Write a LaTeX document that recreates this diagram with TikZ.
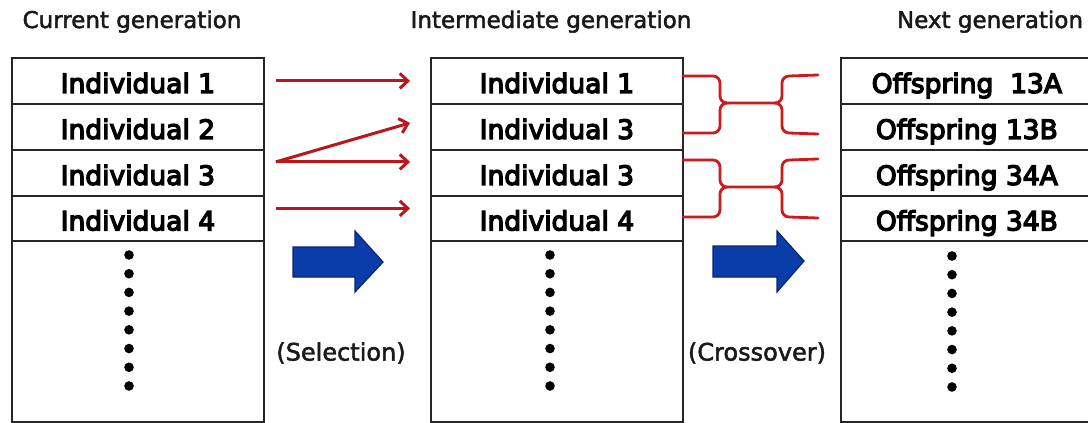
\documentclass[tikz,border=0pt]{standalone}
\usepackage{fontspec}
\setmainfont{DejaVu Sans}
\newfontfamily\cellfont[FakeBold=5]{DejaVu Sans}
\newfontfamily\labelfont[FakeBold=2]{DejaVu Sans}
\usetikzlibrary{arrows.meta,calc}

\definecolor{selred}{RGB}{186,22,30}
\definecolor{brkred}{RGB}{200,28,30}
\definecolor{stepblue}{RGB}{10,60,170}
\definecolor{stepedge}{RGB}{12,36,112}

\tikzset{
  cell/.style={draw=black!85, line width=1.8pt, minimum width=252pt,
    minimum height=46pt, inner sep=0pt, anchor=north west,
    font=\cellfont\fontsize{26.5}{30}\selectfont, text height=24pt, text depth=0pt},
  lastcell/.style={cell, minimum height=45pt},
  tailcell/.style={cell, minimum height=181pt},
  heading/.style={anchor=base, inner sep=0pt, text=black!90, font=\labelfont\fontsize{23}{27}\selectfont},
  steplabel/.style={anchor=center, inner sep=0pt, text=black!90, font=\labelfont\fontsize{24}{28}\selectfont},
  selarrow/.style={draw=selred, line width=3pt, -{Straight Barb[length=8pt,width=15pt]}},
  bracket/.style={draw=brkred, line width=2.8pt, line cap=round, line join=round},
  bigarrow/.style={fill=stepblue, draw=stepedge, line width=1.2pt, line join=miter},
  dotmark/.style={fill=black}
}

\begin{document}
\begin{tikzpicture}[x=1pt,y=-1pt]
  \useasboundingbox (0,0) rectangle (1088,423);
  \clip (0,0) rectangle (1088,423);
  \fill[white] (0,0) rectangle (1088,423);

  % column headings
  \node[heading] (hcur) at (132,28) {Current generation};
  \node[heading] (hmid) at (551,28) {Intermediate generation};
  \node[heading] (hnext) at (990,28) {Next generation};

  % current generation
  \node[cell] (L1) at (11,57) {Individual 1};
  \node[cell] (L2) at (11,103) {Individual 2};
  \node[cell] (L3) at (11,149) {Individual 3};
  \node[lastcell] (L4) at (11,195) {Individual 4};
  \node[tailcell] (L5) at (11,240) {};

  % intermediate generation
  \node[cell] (M1) at (430,57) {Individual 1};
  \node[cell] (M2) at (430,103) {Individual 3};
  \node[cell] (M3) at (430,149) {Individual 3};
  \node[lastcell] (M4) at (430,195) {Individual 4};
  \node[tailcell] (M5) at (430,240) {};

  % next generation
  \node[cell] (R1) at (840,57) {Offspring\ \ 13A};
  \node[cell] (R2) at (840,103) {Offspring 13B};
  \node[cell] (R3) at (840,149) {Offspring 34A};
  \node[lastcell] (R4) at (840,195) {Offspring 34B};
  \node[tailcell] (R5) at (840,240) {};

  % ellipsis dots in the open rows
  \foreach \k in {0,...,7} {
    \fill[dotmark] (129,255+18.71*\k) circle (4.8);
    \fill[dotmark] (550,255+18.71*\k) circle (4.8);
    \fill[dotmark] (952,256+18.71*\k) circle (4.8);
  }

  % selection arrows
  \coordinate (s1) at ($(L1.east)+(11,0)$);
  \coordinate (s3) at ($(L3.east)+(11,-11)$);
  \coordinate (s4) at ($(L4.east)+(11,-10)$);
  \coordinate (t1) at ($(M1.west)+(-20,0)$);
  \coordinate (t2) at ($(M2.west)+(-20,-4)$);
  \coordinate (t3) at ($(M3.west)+(-20,-11)$);
  \coordinate (t4) at ($(M4.west)+(-20,-10)$);
  \draw[selarrow] (s1) -- (t1);
  \draw[selarrow] (s3) -- (t2);
  \draw[selarrow] (s3) -- (t3);
  \draw[selarrow] (s4) -- (t4);

  % crossover brackets
  \foreach \dy in {0,84} {
    \begin{scope}[shift={(0,\dy)}]
      \draw[bracket] (683,76) -- (713,76) to[out=0,in=90] (720,83) -- (720,96)
        to[out=270,in=180] (727,103) -- (775,103) to[out=0,in=270] (782,96)
        -- (782,83) to[out=90,in=180] (789,76) -- (818,75);
      \draw[bracket] (683,133) -- (713,133) to[out=0,in=270] (720,126) -- (720,110)
        to[out=90,in=180] (727,103);
      \draw[bracket] (775,103) to[out=0,in=90] (782,110) -- (782,126)
        to[out=270,in=180] (789,133) -- (818,134);
    \end{scope}
  }

  % step arrows
  \draw[bigarrow] (293,247) -- (355,247) -- (355,231) -- (383,262) -- (355,292)
    -- (355,277) -- (293,277) -- cycle;
  \draw[bigarrow] (713,246) -- (777,246) -- (777,231) -- (804,261) -- (777,292)
    -- (777,277) -- (713,277) -- cycle;

  \node[steplabel] (lsel) at (341,353) {(Selection)};
  \node[steplabel] (lcross) at (757,353) {(Crossover)};
\end{tikzpicture}
\end{document}
